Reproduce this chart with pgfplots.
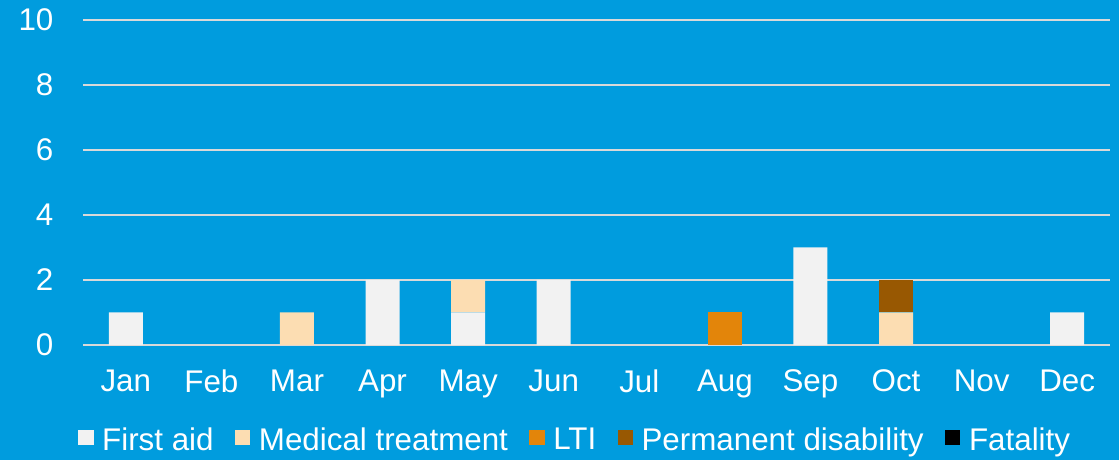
\documentclass[border=0pt]{standalone}
\usepackage{fontspec}
\setmainfont{Liberation Sans}
\usepackage{pgfplots}
\pgfplotsset{compat=1.18}
\definecolor{bgblue}{HTML}{009CDE}
\definecolor{gridgray}{HTML}{D9D9D9}
\definecolor{cfirst}{HTML}{F2F2F2}
\definecolor{cmed}{HTML}{FCDDB2}
\definecolor{clti}{HTML}{E3850A}
\definecolor{cperm}{HTML}{985802}
\definecolor{cfatal}{HTML}{000000}
\newcommand{\chartfont}{\fontsize{23.5}{26}\selectfont}
\pgfplotsset{
  sqlegend/.style={legend image code/.code={\fill (0pt,-3.8pt) rectangle (11.5pt,7.7pt);}},
}

\begin{document}
\begin{tikzpicture}
\useasboundingbox (0,0) rectangle (839.25pt,345pt);
\fill[bgblue] (0,0) rectangle (839.25pt,345pt);
\begin{axis}[
  at={(62.25pt,86.25pt)}, anchor=south west,
  scale only axis, width=770.25pt, height=243.75pt,
  ybar stacked, bar width=25.5pt,
  xmin=-0.5, xmax=11.5, ymin=0, ymax=10,
  xtick={0,...,11},
  xticklabels={Jan,Feb,Mar,Apr,May,Jun,Jul,Aug,Sep,Oct,Nov,Dec},
  ytick={0,2,...,10},
  /pgf/number format/assume math mode=true,
  axis line style={draw=none},
  major tick length=0pt,
  ymajorgrids, grid style={gridgray, line width=1.3pt},
  tick label style={font=\chartfont, text=white},
  yticklabel style={anchor=east, inner sep=0pt, xshift=-22pt},
  xticklabel style={anchor=north, inner sep=0pt, yshift=-18.5pt},
  legend columns=5,
  legend style={at={(0.4795,-0.292)}, anchor=center, draw=none, fill=none,
    font=\chartfont, text=white, inner sep=0pt,
    /tikz/every odd column/.append style={column sep=4.5pt},
    /tikz/every even column/.append style={column sep=14pt}},
  legend cell align=left,
]
\addplot[fill=cfirst, draw=none, sqlegend] coordinates
  {(0,1) (1,0) (2,0) (3,2) (4,1) (5,2) (6,0) (7,0) (8,3) (9,0) (10,0) (11,1)};
\addplot[fill=cmed, draw=none, sqlegend] coordinates
  {(0,0) (1,0) (2,1) (3,0) (4,1) (5,0) (6,0) (7,0) (8,0) (9,1) (10,0) (11,0)};
\addplot[fill=clti, draw=none, sqlegend] coordinates
  {(0,0) (1,0) (2,0) (3,0) (4,0) (5,0) (6,0) (7,1) (8,0) (9,0) (10,0) (11,0)};
\addplot[fill=cperm, draw=none, sqlegend] coordinates
  {(0,0) (1,0) (2,0) (3,0) (4,0) (5,0) (6,0) (7,0) (8,0) (9,1) (10,0) (11,0)};
\addplot[fill=cfatal, draw=none, sqlegend] coordinates
  {(0,0) (1,0) (2,0) (3,0) (4,0) (5,0) (6,0) (7,0) (8,0) (9,0) (10,0) (11,0)};
\legend{First aid, Medical treatment, LTI, Permanent disability, Fatality}
\end{axis}
\end{tikzpicture}
\end{document}
